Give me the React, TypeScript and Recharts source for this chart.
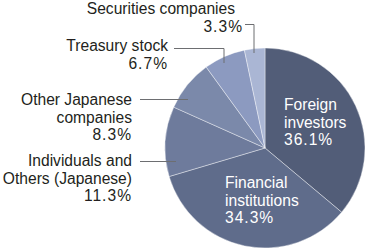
import type { ReactElement } from 'react';
import { Cell, Pie, PieChart } from 'recharts';

// Shareholder composition, clockwise from 12 o'clock.
const categories = [
  'Foreign investors',
  'Financial institutions',
  'Individuals and Others (Japanese)',
  'Other Japanese companies',
  'Treasury stock',
  'Securities companies',
];
const labelLines = [
  ['Foreign', 'investors'],
  ['Financial', 'institutions'],
  ['Individuals and', 'Others (Japanese)'],
  ['Other Japanese', 'companies'],
  ['Treasury stock'],
  ['Securities companies'],
];
const shares = [36.1, 34.3, 11.3, 8.3, 6.7, 3.3];
const sliceColors = ['#525d78', '#5f6c8b', '#6e7b9c', '#7b89aa', '#8c9ac0', '#aab6d4'];

const data = categories.map((name, i) => ({ name, value: shares[i] }));

const FONT = '"Liberation Sans", Arial, Helvetica, sans-serif';
const FONT_SIZE = 15.6;
const PITCH = 17.5;
const TEXT_DARK = '#231f20';
const LEADER = '#6d6e71';

// Label placement, in units of the outer radius, relative to the pie centre.
// inside: left-aligned white text; outside: right-aligned text + elbow leader.
type Layout = {
  inside: boolean;
  tx: number; // text x
  ty: number; // first baseline
  px?: number; // percent line x, when it differs
  leader?: [number, number][];
};
const layout: Layout[] = [
  { inside: true, tx: 0.19, ty: -0.38 },
  { inside: true, tx: -0.4, ty: 0.4 },
  { inside: false, tx: -1.33, ty: 0.18, leader: [[-1.25, 0.135], [-0.89, 0.135]] },
  { inside: false, tx: -1.33, ty: -0.43, leader: [[-1.25, -0.485], [-0.77, -0.485]] },
  { inside: false, tx: -0.97, ty: -0.97, leader: [[-0.91, -0.995], [-0.41, -0.995], [-0.41, -0.85]] },
  {
    inside: false,
    tx: -0.3,
    ty: -1.34,
    px: -0.22,
    leader: [[-0.2, -1.235], [-0.11, -1.235], [-0.11, -0.95]],
  },
];

interface LabelProps {
  cx: number;
  cy: number;
  outerRadius: number;
  index: number;
  value: number;
}

function renderLabel({ cx, cy, outerRadius, index, value }: LabelProps): ReactElement {
  const L = layout[index];
  const R = outerRadius;
  const x = cx + L.tx * R;
  const y = cy + L.ty * R;
  const lines = labelLines[index];
  const fill = L.inside ? '#ffffff' : TEXT_DARK;
  const anchor = L.inside ? 'start' : 'end';
  const px = L.px !== undefined ? cx + L.px * R : x;
  return (
    <g>
      {L.leader && (
        <polyline
          points={L.leader.map(([a, b]) => `${cx + a * R},${cy + b * R}`).join(' ')}
          fill="none"
          stroke={LEADER}
          strokeWidth={1}
        />
      )}
      <text fill={fill} fontFamily={FONT} fontSize={FONT_SIZE} textAnchor={anchor}>
        {lines.map((t, i) => (
          <tspan key={t} x={x} y={y + i * PITCH}>
            {t}
          </tspan>
        ))}
        <tspan x={px} y={y + lines.length * PITCH} letterSpacing={1}>
          {value.toFixed(1)}%
        </tspan>
      </text>
    </g>
  );
}

export default function App(): ReactElement {
  return (
    <div style={{ position: 'absolute', left: 0, top: 0, background: '#fff' }}>
      <PieChart width={368} height={252} margin={{ top: 0, right: 0, bottom: 0, left: 0 }}>
        <Pie
          data={data}
          dataKey="value"
          nameKey="name"
          cx={265}
          cy={148}
          outerRadius={100}
          startAngle={90}
          endAngle={-270}
          stroke="#ffffff"
          strokeWidth={0.4}
          label={renderLabel}
          labelLine={false}
          isAnimationActive={false}
        >
          {data.map((d, i) => (
            <Cell key={d.name} fill={sliceColors[i]} />
          ))}
        </Pie>
      </PieChart>
    </div>
  );
}
